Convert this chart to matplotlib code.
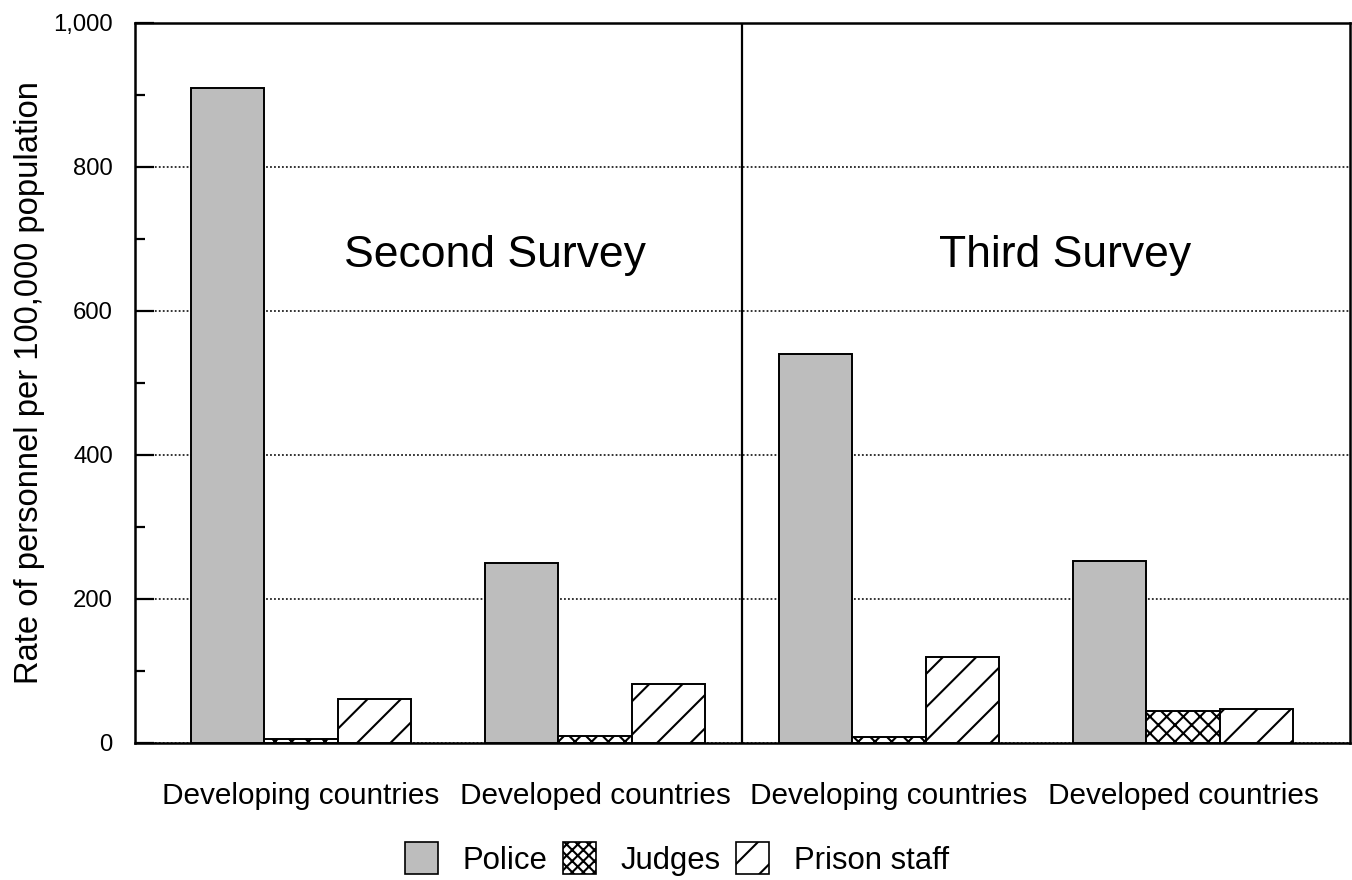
import matplotlib
matplotlib.use("Agg")
import matplotlib.pyplot as plt
import numpy as np
from matplotlib.patches import Patch

categories = ["Developing countries", "Developed countries",
              "Developing countries", "Developed countries"]
police = [910, 250, 540, 253]
judges = [6, 10, 8, 45]
prison = [61, 82, 120, 47]
survey_labels = ["Second Survey", "Third Survey"]
series_names = ["Police", "Judges", "Prison staff"]
y_ticks = [0, 200, 400, 600, 800, 1000]
y_tick_labels = ["0", "200", "400", "600", "800", "1,000"]

plt.rcParams['font.family'] = ['Liberation Sans', 'DejaVu Sans']
plt.rcParams['hatch.linewidth'] = 0.75

police_color = '#bdbdbd'

fig = plt.figure(figsize=(6.76, 4.4), dpi=200)
ax = fig.add_axes([0.0999, 0.1557, 0.8986, 0.8182])

x = np.arange(len(categories))
w = 0.25
ax.bar(x - w, police, w, facecolor=police_color, edgecolor='black', linewidth=0.7, zorder=3)
ax.bar(x, judges, w, facecolor='white', edgecolor='black', hatch='xxxx', linewidth=0.7, zorder=3)
ax.bar(x + w, prison, w, facecolor='white', edgecolor='black', hatch='//', linewidth=0.7, zorder=3)

ax.set_xlim(-0.565, 3.568)
ax.set_ylim(0, 1000)
ax.set_yticks(y_ticks)
ax.set_yticklabels(y_tick_labels)
ax.set_yticks(np.arange(100, 1000, 200), minor=True)
ax.set_xticks(x)
ax.set_xticklabels(categories)

ax.tick_params(axis='y', which='major', direction='in', length=7, width=0.8, labelsize=8.6, pad=8)
ax.tick_params(axis='y', which='minor', direction='in', length=3.6, width=0.8)
ax.tick_params(axis='x', length=0, labelsize=10.7, pad=14)
ax.tick_params(axis='y', right=False)

ax.grid(axis='y', which='major', linestyle=(0, (1, 1.2)), color='#222222', linewidth=0.65, zorder=0)

for s in ax.spines.values():
    s.set_linewidth(0.9)

ax.axvline(1.5, color='black', linewidth=0.8, zorder=4)

ax.set_ylabel("Rate of personnel per 100,000 population", fontsize=11.8, labelpad=3)

ax.text(0.66, 661, survey_labels[0], fontsize=16, ha='center', va='baseline')
ax.text(2.60, 661, survey_labels[1], fontsize=16, ha='center', va='baseline')

handles = [Patch(facecolor=police_color, edgecolor='black', linewidth=0.6),
           Patch(facecolor='white', edgecolor='black', hatch='xxxxxx', linewidth=0.6),
           Patch(facecolor='white', edgecolor='black', hatch='//', linewidth=0.6)]
fig.legend(handles, series_names, loc='center', bbox_to_anchor=(677/1352, 1 - 859/880),
           ncol=3, frameon=False, fontsize=11.2, handlelength=1.05, handleheight=1.2,
           columnspacing=0.5, handletextpad=0.8)

fig.savefig("out.png", dpi=200)
